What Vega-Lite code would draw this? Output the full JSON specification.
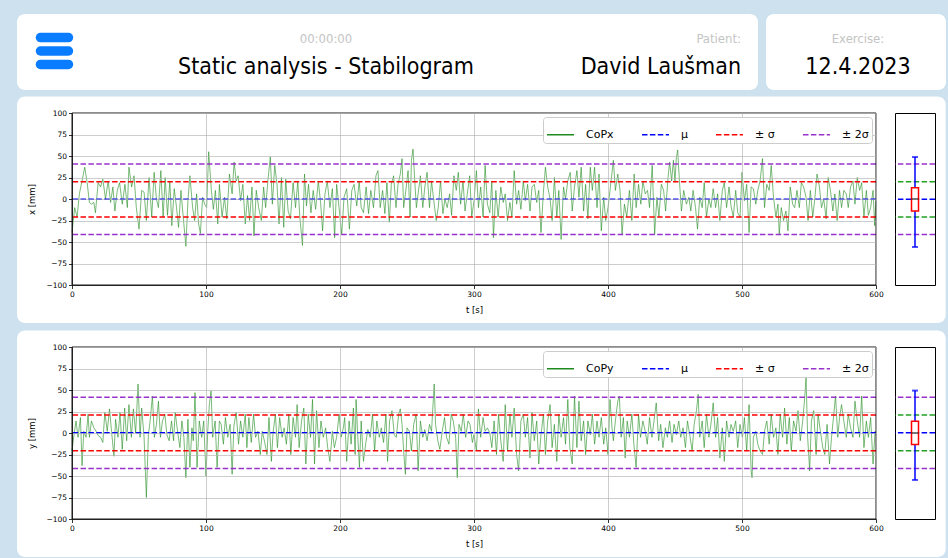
{
"$schema": "https://vega.github.io/schema/vega-lite/v6.json",
"background": "#cde1ee",
"padding": {"left": 17, "top": 14, "right": 2, "bottom": 3},
"spacing": 6,
"bounds": "full",
"resolve": {"scale": {"x": "independent", "y": "independent", "color": "independent", "strokeDash": "independent"}, "legend": {"color": "independent", "strokeDash": "independent"}},
"config": {
  "font": "DejaVu Sans",
  "view": {"stroke": null},
  "axis": {"labelFont": "DejaVu Sans", "labelFontSize": 7.5, "labelColor": "#000000", "titleFont": "DejaVu Sans", "titleFontSize": 8.5, "titleFontWeight": "normal", "titleColor": "#000000", "tickColor": "#000000", "tickSize": 3.5, "tickWidth": 0.8, "domainColor": "#000000", "domainWidth": 0.8, "gridColor": "#b0b0b0", "gridWidth": 0.8, "gridOpacity": 0.8, "labelPadding": 2, "zindex": 1, "labelFlush": false, "labelOverlap": false},
  "legend": {"orient": "top-right", "offset": 4, "direction": "horizontal", "fillColor": "white", "strokeColor": "#cccccc", "cornerRadius": 3, "padding": 3, "labelFont": "DejaVu Sans", "labelFontSize": 11, "labelColor": "#000000", "symbolType": "stroke", "symbolSize": 729, "symbolStrokeWidth": 1.5, "labelOffset": 11, "columnPadding": 25, "rowPadding": 0, "labelLimit": 200, "zindex": 1}
},
"datasets": {
  "copx": [{"t":0,"v":-39},{"t":2,"v":-10},{"t":3.8,"v":-21},{"t":5.5,"v":6},{"t":7.5,"v":21},{"t":9.5,"v":37},{"t":11.3,"v":19},{"t":13,"v":-4},{"t":14.5,"v":-6},{"t":16.3,"v":-4},{"t":17.5,"v":-16},{"t":19.5,"v":19},{"t":21.3,"v":14},{"t":23,"v":23},{"t":25,"v":0},{"t":27,"v":21},{"t":28.8,"v":-4},{"t":30.5,"v":14},{"t":32,"v":-14},{"t":33.8,"v":10},{"t":35.5,"v":19},{"t":37.5,"v":-6},{"t":39.5,"v":17},{"t":41.3,"v":-10},{"t":42.5,"v":37},{"t":44.5,"v":14},{"t":46.3,"v":27},{"t":48,"v":-10},{"t":50,"v":-35},{"t":52,"v":10},{"t":53.8,"v":8},{"t":55.5,"v":-25},{"t":57.5,"v":25},{"t":59.5,"v":-21},{"t":61.3,"v":31},{"t":63,"v":0},{"t":64.5,"v":-10},{"t":66.3,"v":33},{"t":68,"v":-21},{"t":69.5,"v":25},{"t":71.3,"v":-19},{"t":73,"v":21},{"t":74.5,"v":-31},{"t":76.3,"v":12},{"t":78,"v":-10},{"t":79.5,"v":-33},{"t":81.3,"v":10},{"t":83,"v":-21},{"t":85,"v":-55},{"t":86.5,"v":-2},{"t":88,"v":27},{"t":90,"v":-10},{"t":91.5,"v":-25},{"t":93,"v":6},{"t":94.5,"v":-29},{"t":95.8,"v":-40},{"t":97.5,"v":2},{"t":99,"v":-6},{"t":100.5,"v":-10},{"t":102,"v":55},{"t":104,"v":10},{"t":105.5,"v":-12},{"t":107,"v":10},{"t":108.8,"v":-29},{"t":110,"v":17},{"t":112,"v":-21},{"t":113.8,"v":2},{"t":115.5,"v":-23},{"t":117.5,"v":29},{"t":119.5,"v":6},{"t":121,"v":43},{"t":122.5,"v":21},{"t":124,"v":27},{"t":125.8,"v":-2},{"t":127.5,"v":17},{"t":129.3,"v":-29},{"t":131,"v":4},{"t":132.5,"v":-25},{"t":134.3,"v":14},{"t":135.8,"v":-43},{"t":137.5,"v":10},{"t":139.3,"v":-10},{"t":141.3,"v":-25},{"t":143,"v":14},{"t":144.5,"v":-10},{"t":146.3,"v":23},{"t":148,"v":49},{"t":149.5,"v":-6},{"t":151.3,"v":39},{"t":153,"v":17},{"t":154.5,"v":-29},{"t":156.3,"v":25},{"t":158,"v":-33},{"t":159.5,"v":23},{"t":161.3,"v":-14},{"t":163,"v":-23},{"t":165,"v":19},{"t":166.8,"v":-10},{"t":168.5,"v":21},{"t":170,"v":-21},{"t":172,"v":-54},{"t":173.5,"v":29},{"t":175,"v":-8},{"t":176.5,"v":17},{"t":178.3,"v":-16},{"t":180,"v":10},{"t":181.8,"v":-12},{"t":183.8,"v":21},{"t":185.5,"v":-4},{"t":187,"v":-37},{"t":188.8,"v":6},{"t":190.5,"v":21},{"t":192.5,"v":-10},{"t":194.3,"v":12},{"t":196,"v":-45},{"t":197.5,"v":17},{"t":199.3,"v":-10},{"t":201.3,"v":-41},{"t":203,"v":2},{"t":205,"v":12},{"t":207,"v":-35},{"t":208.8,"v":10},{"t":210.5,"v":17},{"t":212.5,"v":-8},{"t":214.3,"v":21},{"t":215.8,"v":-10},{"t":217.5,"v":-16},{"t":219.5,"v":14},{"t":221.3,"v":-17},{"t":223,"v":10},{"t":225,"v":-10},{"t":226.8,"v":27},{"t":228.3,"v":33},{"t":230,"v":-10},{"t":231.8,"v":10},{"t":233.5,"v":-17},{"t":235,"v":19},{"t":236.8,"v":-27},{"t":238.3,"v":17},{"t":240,"v":27},{"t":241.8,"v":-10},{"t":243.3,"v":17},{"t":245,"v":29},{"t":246.3,"v":47},{"t":247.5,"v":-10},{"t":249.3,"v":12},{"t":250.8,"v":33},{"t":252.3,"v":-21},{"t":253.3,"v":45},{"t":254.5,"v":58},{"t":255.8,"v":21},{"t":257,"v":-10},{"t":258.3,"v":6},{"t":260,"v":27},{"t":261.8,"v":-10},{"t":263.3,"v":14},{"t":265,"v":31},{"t":266.8,"v":-10},{"t":268.3,"v":21},{"t":270,"v":-2},{"t":271.8,"v":-25},{"t":273.3,"v":-10},{"t":275,"v":21},{"t":276.8,"v":-17},{"t":278.3,"v":0},{"t":280,"v":-10},{"t":281.8,"v":6},{"t":283.3,"v":-19},{"t":285,"v":27},{"t":286.8,"v":10},{"t":288.3,"v":31},{"t":290,"v":-6},{"t":291.8,"v":21},{"t":293.3,"v":-14},{"t":295,"v":6},{"t":296.8,"v":27},{"t":298.3,"v":-21},{"t":300,"v":-2},{"t":301.8,"v":33},{"t":303.3,"v":-10},{"t":305,"v":14},{"t":306.8,"v":-21},{"t":308.3,"v":39},{"t":310,"v":-6},{"t":311.8,"v":-16},{"t":313.3,"v":21},{"t":314.5,"v":-45},{"t":316.3,"v":10},{"t":318,"v":-21},{"t":320,"v":14},{"t":321.8,"v":-4},{"t":323.3,"v":6},{"t":325,"v":-25},{"t":326.8,"v":-4},{"t":328.3,"v":-21},{"t":330,"v":33},{"t":331.8,"v":-6},{"t":333.3,"v":10},{"t":335,"v":-12},{"t":336.8,"v":21},{"t":338.3,"v":-2},{"t":340,"v":17},{"t":341.8,"v":-14},{"t":343.3,"v":14},{"t":345,"v":17},{"t":346.8,"v":-4},{"t":348.3,"v":10},{"t":350,"v":-39},{"t":351.8,"v":8},{"t":353.3,"v":37},{"t":355,"v":14},{"t":356.8,"v":0},{"t":358.3,"v":-25},{"t":360,"v":25},{"t":361.8,"v":-21},{"t":363.3,"v":10},{"t":365,"v":-47},{"t":366.8,"v":14},{"t":368.3,"v":0},{"t":370,"v":21},{"t":371.8,"v":31},{"t":373.3,"v":-14},{"t":375,"v":14},{"t":376.8,"v":33},{"t":378.3,"v":2},{"t":380,"v":37},{"t":381.8,"v":-14},{"t":383.3,"v":17},{"t":385,"v":-23},{"t":386.8,"v":37},{"t":388.3,"v":10},{"t":390,"v":37},{"t":391.8,"v":-10},{"t":393.3,"v":29},{"t":395,"v":-37},{"t":396.8,"v":2},{"t":398.3,"v":-25},{"t":400,"v":-10},{"t":401.8,"v":14},{"t":404,"v":45},{"t":405.5,"v":10},{"t":407.3,"v":29},{"t":409,"v":10},{"t":410.5,"v":-41},{"t":412.3,"v":-6},{"t":414,"v":-21},{"t":416,"v":10},{"t":417.8,"v":-25},{"t":419.5,"v":29},{"t":421,"v":-10},{"t":422.8,"v":17},{"t":424.5,"v":-6},{"t":426,"v":21},{"t":427.8,"v":6},{"t":429.5,"v":10},{"t":431,"v":-10},{"t":433,"v":39},{"t":434.8,"v":-41},{"t":436.5,"v":2},{"t":438,"v":-21},{"t":439.8,"v":17},{"t":441.5,"v":10},{"t":443,"v":-14},{"t":444.8,"v":25},{"t":446,"v":43},{"t":447.5,"v":21},{"t":448.8,"v":45},{"t":450,"v":21},{"t":451,"v":48},{"t":452,"v":57},{"t":453.3,"v":21},{"t":454.8,"v":-14},{"t":456.5,"v":10},{"t":458.5,"v":-6},{"t":460.3,"v":2},{"t":461.8,"v":-14},{"t":463.5,"v":10},{"t":465.3,"v":-10},{"t":466.8,"v":-35},{"t":468.5,"v":2},{"t":470.3,"v":-10},{"t":471.8,"v":19},{"t":473.5,"v":-21},{"t":475.3,"v":0},{"t":476.8,"v":-10},{"t":478.5,"v":12},{"t":480.3,"v":-10},{"t":481.8,"v":6},{"t":483.5,"v":-25},{"t":485.3,"v":10},{"t":486.8,"v":19},{"t":488.5,"v":-10},{"t":490.3,"v":14},{"t":491.8,"v":-8},{"t":493.5,"v":-21},{"t":495.3,"v":10},{"t":496.8,"v":-16},{"t":498.5,"v":-21},{"t":500,"v":31},{"t":501.8,"v":-2},{"t":503.5,"v":17},{"t":505.3,"v":-39},{"t":506.8,"v":14},{"t":508.5,"v":12},{"t":510.3,"v":-6},{"t":511.8,"v":10},{"t":513.5,"v":21},{"t":515.3,"v":47},{"t":516.8,"v":-10},{"t":518.5,"v":17},{"t":520.3,"v":10},{"t":521.8,"v":39},{"t":523.5,"v":2},{"t":525.3,"v":-21},{"t":526.8,"v":-6},{"t":527.8,"v":-41},{"t":529.3,"v":-10},{"t":531,"v":-25},{"t":532.8,"v":-14},{"t":534.3,"v":-37},{"t":536,"v":14},{"t":537.8,"v":-6},{"t":539.3,"v":-10},{"t":541,"v":10},{"t":542.8,"v":-10},{"t":544.3,"v":19},{"t":546,"v":14},{"t":547.8,"v":2},{"t":549.3,"v":-25},{"t":551,"v":10},{"t":552.8,"v":-21},{"t":554.3,"v":0},{"t":556,"v":29},{"t":557.8,"v":14},{"t":559.3,"v":-10},{"t":561,"v":0},{"t":562.8,"v":-23},{"t":564.3,"v":25},{"t":566,"v":10},{"t":567.8,"v":-14},{"t":569.3,"v":6},{"t":571,"v":-25},{"t":572.8,"v":10},{"t":574.3,"v":-10},{"t":576,"v":10},{"t":577.8,"v":6},{"t":579.3,"v":-10},{"t":581,"v":14},{"t":582.8,"v":21},{"t":584.3,"v":-6},{"t":586,"v":25},{"t":587.8,"v":10},{"t":589.3,"v":19},{"t":591,"v":-21},{"t":592.8,"v":10},{"t":594.3,"v":-19},{"t":596,"v":-10},{"t":597.8,"v":10},{"t":599,"v":-31},{"t":600,"v":-2}],
  "copy": [{"t":0,"v":-21},{"t":1.5,"v":-2},{"t":3,"v":14},{"t":4.5,"v":-5},{"t":6.3,"v":18},{"t":7.5,"v":-38},{"t":8.8,"v":2},{"t":10.5,"v":-5},{"t":12,"v":22},{"t":13,"v":-5},{"t":14.5,"v":14},{"t":16.3,"v":6},{"t":18,"v":2},{"t":19.5,"v":-3},{"t":21.3,"v":-5},{"t":23,"v":-11},{"t":24.5,"v":24},{"t":26.3,"v":2},{"t":28,"v":28},{"t":29.5,"v":2},{"t":31.3,"v":-27},{"t":32.5,"v":16},{"t":34.3,"v":-5},{"t":35.8,"v":24},{"t":37.5,"v":-19},{"t":39.3,"v":29},{"t":40.8,"v":-9},{"t":42.5,"v":33},{"t":44.3,"v":-5},{"t":45.8,"v":28},{"t":47.5,"v":0},{"t":49.3,"v":57},{"t":50.8,"v":-5},{"t":52,"v":29},{"t":53.8,"v":-5},{"t":55.5,"v":-75},{"t":57,"v":-2},{"t":58.3,"v":14},{"t":60,"v":43},{"t":61.5,"v":-5},{"t":63,"v":10},{"t":64.5,"v":37},{"t":66,"v":-5},{"t":67.5,"v":14},{"t":69.3,"v":22},{"t":70.8,"v":-2},{"t":72.5,"v":-9},{"t":74.3,"v":14},{"t":75.8,"v":-9},{"t":77,"v":24},{"t":78.8,"v":2},{"t":80.5,"v":-17},{"t":82,"v":14},{"t":83.5,"v":-5},{"t":85,"v":-52},{"t":86.5,"v":16},{"t":88,"v":-40},{"t":89.5,"v":6},{"t":90.5,"v":-9},{"t":91.8,"v":47},{"t":93.3,"v":-40},{"t":95,"v":14},{"t":96.8,"v":-5},{"t":98.3,"v":14},{"t":100,"v":-50},{"t":101.3,"v":2},{"t":102.5,"v":33},{"t":103.8,"v":49},{"t":105,"v":-5},{"t":106.8,"v":14},{"t":108.3,"v":-40},{"t":110,"v":14},{"t":111.3,"v":10},{"t":113,"v":-13},{"t":114.5,"v":18},{"t":116.3,"v":-5},{"t":118,"v":10},{"t":119.5,"v":-48},{"t":120.8,"v":8},{"t":122.5,"v":24},{"t":124.3,"v":-13},{"t":125.8,"v":14},{"t":127.5,"v":-5},{"t":129.3,"v":22},{"t":130.5,"v":-17},{"t":132,"v":18},{"t":133.8,"v":-11},{"t":135.5,"v":22},{"t":137,"v":-5},{"t":138.8,"v":2},{"t":140.5,"v":-25},{"t":142,"v":2},{"t":143.8,"v":-11},{"t":145.5,"v":-25},{"t":147,"v":18},{"t":148.8,"v":-33},{"t":150,"v":0},{"t":151.8,"v":22},{"t":153.3,"v":-17},{"t":155,"v":18},{"t":156.8,"v":-5},{"t":158.3,"v":6},{"t":160,"v":-13},{"t":161.8,"v":22},{"t":163.3,"v":-25},{"t":165,"v":18},{"t":166.8,"v":-5},{"t":168,"v":33},{"t":169.5,"v":-17},{"t":171.3,"v":14},{"t":173,"v":29},{"t":174.5,"v":-36},{"t":176.3,"v":22},{"t":178,"v":-5},{"t":179.5,"v":39},{"t":181,"v":-36},{"t":182.5,"v":26},{"t":184.3,"v":-17},{"t":185.8,"v":14},{"t":187.5,"v":-5},{"t":189.3,"v":6},{"t":190.8,"v":-17},{"t":192.5,"v":-33},{"t":194.3,"v":2},{"t":195.8,"v":-17},{"t":197.5,"v":-5},{"t":199.3,"v":22},{"t":200.8,"v":-5},{"t":202.5,"v":6},{"t":203.5,"v":18},{"t":205,"v":-33},{"t":206.8,"v":14},{"t":208.3,"v":-13},{"t":210,"v":29},{"t":211.3,"v":-25},{"t":212,"v":39},{"t":213.3,"v":-5},{"t":214.5,"v":-40},{"t":215.8,"v":14},{"t":217.5,"v":-33},{"t":219.3,"v":-11},{"t":220.8,"v":4},{"t":222.5,"v":-5},{"t":224.3,"v":22},{"t":225.8,"v":-21},{"t":227.5,"v":14},{"t":229.3,"v":-5},{"t":230.8,"v":6},{"t":232.5,"v":-11},{"t":234.3,"v":22},{"t":235.5,"v":-33},{"t":237,"v":14},{"t":238.8,"v":26},{"t":240.5,"v":-2},{"t":242,"v":-5},{"t":243.8,"v":22},{"t":245,"v":28},{"t":246.3,"v":10},{"t":247.5,"v":-21},{"t":248.8,"v":-48},{"t":250,"v":6},{"t":251.8,"v":2},{"t":253.3,"v":-21},{"t":255,"v":10},{"t":256.8,"v":22},{"t":258.3,"v":-44},{"t":260,"v":14},{"t":261.8,"v":-5},{"t":263.3,"v":4},{"t":265,"v":-9},{"t":266.8,"v":10},{"t":268.3,"v":2},{"t":270.3,"v":57},{"t":271.3,"v":10},{"t":273,"v":-9},{"t":274.5,"v":-19},{"t":276.3,"v":2},{"t":278,"v":18},{"t":279.5,"v":-5},{"t":281.3,"v":-13},{"t":283,"v":22},{"t":284.5,"v":14},{"t":286.3,"v":-5},{"t":287.5,"v":-52},{"t":288.8,"v":10},{"t":290.5,"v":2},{"t":292,"v":22},{"t":293.8,"v":-5},{"t":295.5,"v":14},{"t":297,"v":10},{"t":298.8,"v":-11},{"t":300,"v":-2},{"t":301.8,"v":-21},{"t":303.3,"v":28},{"t":305,"v":-5},{"t":306.8,"v":18},{"t":308.3,"v":2},{"t":310,"v":6},{"t":311.8,"v":0},{"t":313.3,"v":-17},{"t":315,"v":14},{"t":316.8,"v":-25},{"t":318.3,"v":22},{"t":320,"v":-9},{"t":321.8,"v":-33},{"t":323.3,"v":33},{"t":325,"v":-21},{"t":326.8,"v":22},{"t":328.3,"v":-5},{"t":330,"v":29},{"t":331.8,"v":-25},{"t":333.3,"v":-44},{"t":335,"v":14},{"t":336.8,"v":22},{"t":338.3,"v":-5},{"t":340,"v":18},{"t":341.8,"v":-29},{"t":343.3,"v":24},{"t":345,"v":-9},{"t":346.8,"v":14},{"t":348.3,"v":-36},{"t":350,"v":-2},{"t":351.8,"v":22},{"t":353.3,"v":-25},{"t":355,"v":14},{"t":356.8,"v":33},{"t":358.3,"v":-17},{"t":360,"v":10},{"t":361.8,"v":-33},{"t":363.3,"v":22},{"t":365,"v":-5},{"t":366.8,"v":18},{"t":368.3,"v":-13},{"t":370,"v":39},{"t":371.5,"v":-17},{"t":373.3,"v":-36},{"t":375,"v":43},{"t":376.8,"v":-17},{"t":378.3,"v":37},{"t":380,"v":-9},{"t":381.8,"v":14},{"t":383.3,"v":-25},{"t":385,"v":14},{"t":386.8,"v":-2},{"t":388.3,"v":22},{"t":390,"v":-13},{"t":391.8,"v":14},{"t":393.3,"v":-5},{"t":395,"v":18},{"t":396.8,"v":-13},{"t":398.3,"v":6},{"t":400,"v":-25},{"t":401.5,"v":39},{"t":403,"v":6},{"t":404,"v":-9},{"t":405.5,"v":14},{"t":407.3,"v":37},{"t":408.5,"v":43},{"t":409.8,"v":-5},{"t":411.5,"v":18},{"t":412.8,"v":-29},{"t":414.3,"v":14},{"t":416,"v":-5},{"t":417.8,"v":22},{"t":419.3,"v":-13},{"t":421,"v":-40},{"t":422.8,"v":22},{"t":424.3,"v":-5},{"t":426,"v":14},{"t":427.8,"v":2},{"t":429.3,"v":-13},{"t":431,"v":18},{"t":432.8,"v":-5},{"t":434.3,"v":14},{"t":436,"v":35},{"t":437.8,"v":-9},{"t":439.3,"v":10},{"t":441,"v":-17},{"t":442.8,"v":6},{"t":444.3,"v":-5},{"t":446,"v":14},{"t":447.8,"v":-11},{"t":449.3,"v":10},{"t":451,"v":-2},{"t":452.8,"v":14},{"t":454.3,"v":-5},{"t":456,"v":6},{"t":457.8,"v":-17},{"t":459.3,"v":14},{"t":461,"v":-2},{"t":462.8,"v":-21},{"t":464.3,"v":10},{"t":466,"v":26},{"t":467.3,"v":45},{"t":468.5,"v":-5},{"t":470.3,"v":14},{"t":471.8,"v":-17},{"t":473.5,"v":22},{"t":475.3,"v":-5},{"t":476.8,"v":10},{"t":478.5,"v":35},{"t":480.3,"v":-5},{"t":481.8,"v":18},{"t":483.5,"v":-29},{"t":485.3,"v":6},{"t":486.8,"v":-33},{"t":488.5,"v":14},{"t":490.3,"v":-5},{"t":491.8,"v":10},{"t":493.5,"v":2},{"t":495.3,"v":14},{"t":496.8,"v":-17},{"t":498.5,"v":10},{"t":500.3,"v":-5},{"t":501.8,"v":18},{"t":503.5,"v":-21},{"t":505.3,"v":33},{"t":506.8,"v":-44},{"t":507.5,"v":-52},{"t":508.5,"v":-5},{"t":510.3,"v":2},{"t":511.8,"v":-13},{"t":513.5,"v":-21},{"t":515.3,"v":-25},{"t":516.8,"v":2},{"t":518.5,"v":14},{"t":520.3,"v":-13},{"t":521.8,"v":22},{"t":523.5,"v":-5},{"t":525.3,"v":6},{"t":526.8,"v":-25},{"t":528.5,"v":22},{"t":530.3,"v":-5},{"t":531.8,"v":29},{"t":533.5,"v":-13},{"t":535.3,"v":18},{"t":536.8,"v":-21},{"t":538.5,"v":14},{"t":540.3,"v":2},{"t":541.8,"v":26},{"t":543.5,"v":-9},{"t":545.3,"v":14},{"t":546.8,"v":41},{"t":547.8,"v":64},{"t":549,"v":-5},{"t":550.5,"v":-44},{"t":551.8,"v":14},{"t":553.5,"v":26},{"t":555.3,"v":-25},{"t":556.8,"v":22},{"t":558.5,"v":2},{"t":560.3,"v":-17},{"t":561.8,"v":-25},{"t":563.5,"v":10},{"t":565.3,"v":-36},{"t":566.8,"v":-5},{"t":568.5,"v":22},{"t":569.8,"v":43},{"t":571.5,"v":-5},{"t":572.8,"v":18},{"t":574.3,"v":33},{"t":576,"v":14},{"t":577.8,"v":-5},{"t":579.3,"v":22},{"t":581,"v":6},{"t":582.8,"v":-5},{"t":584.3,"v":37},{"t":586,"v":14},{"t":587.8,"v":-5},{"t":589.3,"v":43},{"t":591,"v":-17},{"t":592.8,"v":14},{"t":594.3,"v":-5},{"t":596,"v":18},{"t":597.8,"v":-36},{"t":599.3,"v":2},{"t":600,"v":-2}],
  "statsx": [{"series":"μ","value":-0.4},{"series":"± σ","value":20.1},{"series":"± σ","value":-20.9},{"series":"± 2σ","value":40.6},{"series":"± 2σ","value":-41.4}],
  "statsy": [{"series":"μ","value":0.2},{"series":"± σ","value":20.9},{"series":"± σ","value":-20.5},{"series":"± 2σ","value":41.6},{"series":"± 2σ","value":-41.2}],
  "boxx": [{"k":"CoPx","lo":-55.8,"q1":-14,"med":0,"q3":13.2,"hi":48.8}],
  "boxy": [{"k":"CoPy","lo":-54.6,"q1":-13.5,"med":0,"q3":13.6,"hi":49.3}]
},
"vconcat": [
  {
    "width": 804, "height": 76,
    "view": {"stroke": null},
    "layer": [
      {"data": {"values": [{"card": "title"}]}, "mark": {"type": "rect", "fill": "white", "cornerRadius": 8, "clip": false}, "encoding": {"x": {"datum": -0.0684, "type": "quantitative", "scale": {"domain": [0, 1], "nice": false, "zero": false}, "axis": null}, "x2": {"datum": 0.8532}, "y": {"datum": 0, "type": "quantitative", "scale": {"domain": [0, 1], "reverse": true, "nice": false, "zero": false}, "axis": null}, "y2": {"datum": 1}}},
      {"data": {"values": [{"card": "exercise"}]}, "mark": {"type": "rect", "fill": "white", "cornerRadius": 8, "clip": false}, "encoding": {"x": {"datum": 0.8632, "type": "quantitative", "axis": null}, "x2": {"datum": 1.0871}, "y": {"datum": 0, "type": "quantitative", "axis": null}, "y2": {"datum": 1}}},
      {"data": {"values": [{"bar": "top"}]}, "mark": {"type": "rule", "color": "#0a7cff", "strokeWidth": 9.5, "strokeCap": "round", "clip": false}, "encoding": {"x": {"datum": -0.0392, "type": "quantitative", "axis": null}, "x2": {"datum": -0.0044}, "y": {"datum": 0.31, "type": "quantitative", "axis": null}}},
      {"data": {"values": [{"bar": "middle"}]}, "mark": {"type": "rule", "color": "#0a7cff", "strokeWidth": 9.5, "strokeCap": "round", "clip": false}, "encoding": {"x": {"datum": -0.0392, "type": "quantitative", "axis": null}, "x2": {"datum": -0.0044}, "y": {"datum": 0.487, "type": "quantitative", "axis": null}}},
      {"data": {"values": [{"bar": "bottom"}]}, "mark": {"type": "rule", "color": "#0a7cff", "strokeWidth": 9.5, "strokeCap": "round", "clip": false}, "encoding": {"x": {"datum": -0.0392, "type": "quantitative", "axis": null}, "x2": {"datum": -0.0044}, "y": {"datum": 0.664, "type": "quantitative", "axis": null}}},
      {"data": {"values": [{"label": "00:00:00"}]}, "mark": {"type": "text", "align": "center", "baseline": "alphabetic", "fontSize": 13, "color": "#c4c4c4", "font": "Liberation Sans Narrow, DejaVu Sans Condensed, Roboto Condensed, Roboto, sans-serif"}, "encoding": {"text": {"field": "label"}, "x": {"datum": 0.3159, "type": "quantitative", "axis": null}, "y": {"datum": 0.382, "type": "quantitative", "axis": null}}},
      {"data": {"values": [{"label": "Static analysis - Stabilogram"}]}, "mark": {"type": "text", "align": "center", "baseline": "alphabetic", "fontSize": 23, "color": "#000000", "font": "Liberation Sans Narrow, DejaVu Sans Condensed, Roboto Condensed, Roboto, sans-serif"}, "encoding": {"text": {"field": "label"}, "x": {"datum": 0.3159, "type": "quantitative", "axis": null}, "y": {"datum": 0.789, "type": "quantitative", "axis": null}}},
      {"data": {"values": [{"label": "Patient:"}]}, "mark": {"type": "text", "align": "right", "baseline": "alphabetic", "fontSize": 13, "color": "#c4c4c4", "font": "Liberation Sans Narrow, DejaVu Sans Condensed, Roboto Condensed, Roboto, sans-serif"}, "encoding": {"text": {"field": "label"}, "x": {"datum": 0.8321, "type": "quantitative", "axis": null}, "y": {"datum": 0.382, "type": "quantitative", "axis": null}}},
      {"data": {"values": [{"label": "David Laušman"}]}, "mark": {"type": "text", "align": "right", "baseline": "alphabetic", "fontSize": 23, "color": "#000000", "font": "Liberation Sans Narrow, DejaVu Sans Condensed, Roboto Condensed, Roboto, sans-serif"}, "encoding": {"text": {"field": "label"}, "x": {"datum": 0.8321, "type": "quantitative", "axis": null}, "y": {"datum": 0.789, "type": "quantitative", "axis": null}}},
      {"data": {"values": [{"label": "Exercise:"}]}, "mark": {"type": "text", "align": "center", "baseline": "alphabetic", "fontSize": 13, "color": "#c4c4c4", "font": "Liberation Sans Narrow, DejaVu Sans Condensed, Roboto Condensed, Roboto, sans-serif"}, "encoding": {"text": {"field": "label"}, "x": {"datum": 0.9776, "type": "quantitative", "axis": null}, "y": {"datum": 0.382, "type": "quantitative", "axis": null}}},
      {"data": {"values": [{"label": "12.4.2023"}]}, "mark": {"type": "text", "align": "center", "baseline": "alphabetic", "fontSize": 23, "color": "#000000", "font": "Liberation Sans Narrow, DejaVu Sans Condensed, Roboto Condensed, Roboto, sans-serif"}, "encoding": {"text": {"field": "label"}, "x": {"datum": 0.9776, "type": "quantitative", "axis": null}, "y": {"datum": 0.789, "type": "quantitative", "axis": null}}}
    ]
  },
  {
    "hconcat": [
      {
        "width": 804, "height": 172,
        "layer": [
          {"data": {"values": [{"card": "x"}]}, "mark": {"type": "rect", "fill": "white", "cornerRadius": 8, "clip": false}, "encoding": {"x": {"datum": -41, "type": "quantitative", "scale": {"domain": [0, 600], "nice": false, "zero": false}}, "x2": {"datum": 652}, "y": {"datum": 119.2, "type": "quantitative", "scale": {"domain": [-100, 100], "nice": false, "zero": false}}, "y2": {"datum": -144.2}}},
          {"data": {"name": "copx"}, "mark": {"type": "line", "stroke": "#1f8a1f", "strokeWidth": 0.7, "opacity": 0.85}, "encoding": {"x": {"field": "t", "type": "quantitative", "axis": {"values": [0, 100, 200, 300, 400, 500, 600], "title": "t [s]", "grid": true, "titlePadding": 7, "zindex": 1}}, "y": {"field": "v", "type": "quantitative", "axis": {"values": [-100, -75, -50, -25, 0, 25, 50, 75, 100], "tickCount": 9, "title": "x [mm]", "grid": true, "titlePadding": 9, "zindex": 1, "labelOverlap": false}}}},
          {"data": {"name": "statsx"}, "mark": {"type": "rule", "strokeWidth": 1.5}, "encoding": {"y": {"field": "value", "type": "quantitative"}, "color": {"field": "series", "type": "nominal", "scale": {"domain": ["CoPx", "μ", "± σ", "± 2σ"], "range": ["#1f8a1f", "#0000ff", "#ff0000", "#9932cc"]}, "legend": {"title": null, "labelFontSize": 11, "zindex": 1}}, "strokeDash": {"field": "series", "type": "nominal", "scale": {"domain": ["CoPx", "μ", "± σ", "± 2σ"], "range": [[1, 0], [5.5, 2.4], [5.5, 2.4], [5.5, 2.4]]}, "legend": {"title": null, "labelFontSize": 11, "zindex": 1}}}},
          {"data": {"values": [{"frame": "x"}]}, "mark": {"type": "rect", "fillOpacity": 0, "stroke": "#000000", "strokeWidth": 0.9}, "encoding": {"x": {"datum": 0, "type": "quantitative"}, "x2": {"datum": 600}, "y": {"datum": -100, "type": "quantitative"}, "y2": {"datum": 100}}}
        ]
      },
      {
        "width": 40, "height": 172,
        "view": {"fill": "white", "stroke": "#000000", "strokeWidth": 1},
        "layer": [
          {"data": {"name": "statsx"}, "mark": {"type": "rule", "strokeWidth": 1.5, "strokeDash": [5.5, 2.4]}, "encoding": {"y": {"field": "value", "type": "quantitative", "scale": {"domain": [-100, 100], "nice": false, "zero": false}, "axis": null}, "color": {"field": "series", "type": "nominal", "scale": {"domain": ["μ", "± σ", "± 2σ"], "range": ["#0000ff", "#22a022", "#9932cc"]}, "legend": null}}},
          {"data": {"name": "boxx"}, "mark": {"type": "rule", "color": "#0000ff", "strokeWidth": 1.5}, "encoding": {"x": {"field": "k", "type": "nominal", "axis": null}, "y": {"field": "lo", "type": "quantitative", "axis": null}, "y2": {"field": "hi"}}},
          {"data": {"name": "boxx"}, "mark": {"type": "bar", "width": 7, "fill": "white", "stroke": "#ff0000", "strokeWidth": 1.5}, "encoding": {"x": {"field": "k", "type": "nominal", "axis": null}, "y": {"field": "q1", "type": "quantitative", "axis": null}, "y2": {"field": "q3"}}},
          {"data": {"name": "boxx"}, "mark": {"type": "tick", "color": "#000000", "size": 7, "thickness": 1.5}, "encoding": {"x": {"field": "k", "type": "nominal", "axis": null}, "y": {"field": "med", "type": "quantitative", "axis": null}}},
          {"data": {"name": "boxx"}, "mark": {"type": "tick", "color": "#0000ff", "size": 6, "thickness": 2}, "encoding": {"x": {"field": "k", "type": "nominal", "axis": null}, "y": {"field": "hi", "type": "quantitative", "axis": null}}},
          {"data": {"name": "boxx"}, "mark": {"type": "tick", "color": "#0000ff", "size": 6, "thickness": 2}, "encoding": {"x": {"field": "k", "type": "nominal", "axis": null}, "y": {"field": "lo", "type": "quantitative", "axis": null}}}
        ]
      }
    ],
    "spacing": 19,
    "bounds": "flush",
    "resolve": {"scale": {"x": "independent", "y": "independent", "color": "independent", "strokeDash": "independent"}, "legend": {"color": "independent", "strokeDash": "independent"}}
  },
  {
    "hconcat": [
      {
        "width": 804, "height": 172,
        "layer": [
          {"data": {"values": [{"card": "y"}]}, "mark": {"type": "rect", "fill": "white", "cornerRadius": 8, "clip": false}, "encoding": {"x": {"datum": -41, "type": "quantitative", "scale": {"domain": [0, 600], "nice": false, "zero": false}}, "x2": {"datum": 652}, "y": {"datum": 119.2, "type": "quantitative", "scale": {"domain": [-100, 100], "nice": false, "zero": false}}, "y2": {"datum": -144.2}}},
          {"data": {"name": "copy"}, "mark": {"type": "line", "stroke": "#1f8a1f", "strokeWidth": 0.7, "opacity": 0.85}, "encoding": {"x": {"field": "t", "type": "quantitative", "axis": {"values": [0, 100, 200, 300, 400, 500, 600], "title": "t [s]", "grid": true, "titlePadding": 7, "zindex": 1}}, "y": {"field": "v", "type": "quantitative", "axis": {"values": [-100, -75, -50, -25, 0, 25, 50, 75, 100], "tickCount": 9, "title": "y [mm]", "grid": true, "titlePadding": 9, "zindex": 1, "labelOverlap": false}}}},
          {"data": {"name": "statsy"}, "mark": {"type": "rule", "strokeWidth": 1.5}, "encoding": {"y": {"field": "value", "type": "quantitative"}, "color": {"field": "series", "type": "nominal", "scale": {"domain": ["CoPy", "μ", "± σ", "± 2σ"], "range": ["#1f8a1f", "#0000ff", "#ff0000", "#9932cc"]}, "legend": {"title": null, "labelFontSize": 11, "zindex": 1}}, "strokeDash": {"field": "series", "type": "nominal", "scale": {"domain": ["CoPy", "μ", "± σ", "± 2σ"], "range": [[1, 0], [5.5, 2.4], [5.5, 2.4], [5.5, 2.4]]}, "legend": {"title": null, "labelFontSize": 11, "zindex": 1}}}},
          {"data": {"values": [{"frame": "y"}]}, "mark": {"type": "rect", "fillOpacity": 0, "stroke": "#000000", "strokeWidth": 0.9}, "encoding": {"x": {"datum": 0, "type": "quantitative"}, "x2": {"datum": 600}, "y": {"datum": -100, "type": "quantitative"}, "y2": {"datum": 100}}}
        ]
      },
      {
        "width": 40, "height": 172,
        "view": {"fill": "white", "stroke": "#000000", "strokeWidth": 1},
        "layer": [
          {"data": {"name": "statsy"}, "mark": {"type": "rule", "strokeWidth": 1.5, "strokeDash": [5.5, 2.4]}, "encoding": {"y": {"field": "value", "type": "quantitative", "scale": {"domain": [-100, 100], "nice": false, "zero": false}, "axis": null}, "color": {"field": "series", "type": "nominal", "scale": {"domain": ["μ", "± σ", "± 2σ"], "range": ["#0000ff", "#22a022", "#9932cc"]}, "legend": null}}},
          {"data": {"name": "boxy"}, "mark": {"type": "rule", "color": "#0000ff", "strokeWidth": 1.5}, "encoding": {"x": {"field": "k", "type": "nominal", "axis": null}, "y": {"field": "lo", "type": "quantitative", "axis": null}, "y2": {"field": "hi"}}},
          {"data": {"name": "boxy"}, "mark": {"type": "bar", "width": 7, "fill": "white", "stroke": "#ff0000", "strokeWidth": 1.5}, "encoding": {"x": {"field": "k", "type": "nominal", "axis": null}, "y": {"field": "q1", "type": "quantitative", "axis": null}, "y2": {"field": "q3"}}},
          {"data": {"name": "boxy"}, "mark": {"type": "tick", "color": "#000000", "size": 7, "thickness": 1.5}, "encoding": {"x": {"field": "k", "type": "nominal", "axis": null}, "y": {"field": "med", "type": "quantitative", "axis": null}}},
          {"data": {"name": "boxy"}, "mark": {"type": "tick", "color": "#0000ff", "size": 6, "thickness": 2}, "encoding": {"x": {"field": "k", "type": "nominal", "axis": null}, "y": {"field": "hi", "type": "quantitative", "axis": null}}},
          {"data": {"name": "boxy"}, "mark": {"type": "tick", "color": "#0000ff", "size": 6, "thickness": 2}, "encoding": {"x": {"field": "k", "type": "nominal", "axis": null}, "y": {"field": "lo", "type": "quantitative", "axis": null}}}
        ]
      }
    ],
    "spacing": 19,
    "bounds": "flush",
    "resolve": {"scale": {"x": "independent", "y": "independent", "color": "independent", "strokeDash": "independent"}, "legend": {"color": "independent", "strokeDash": "independent"}}
  }
]
}
